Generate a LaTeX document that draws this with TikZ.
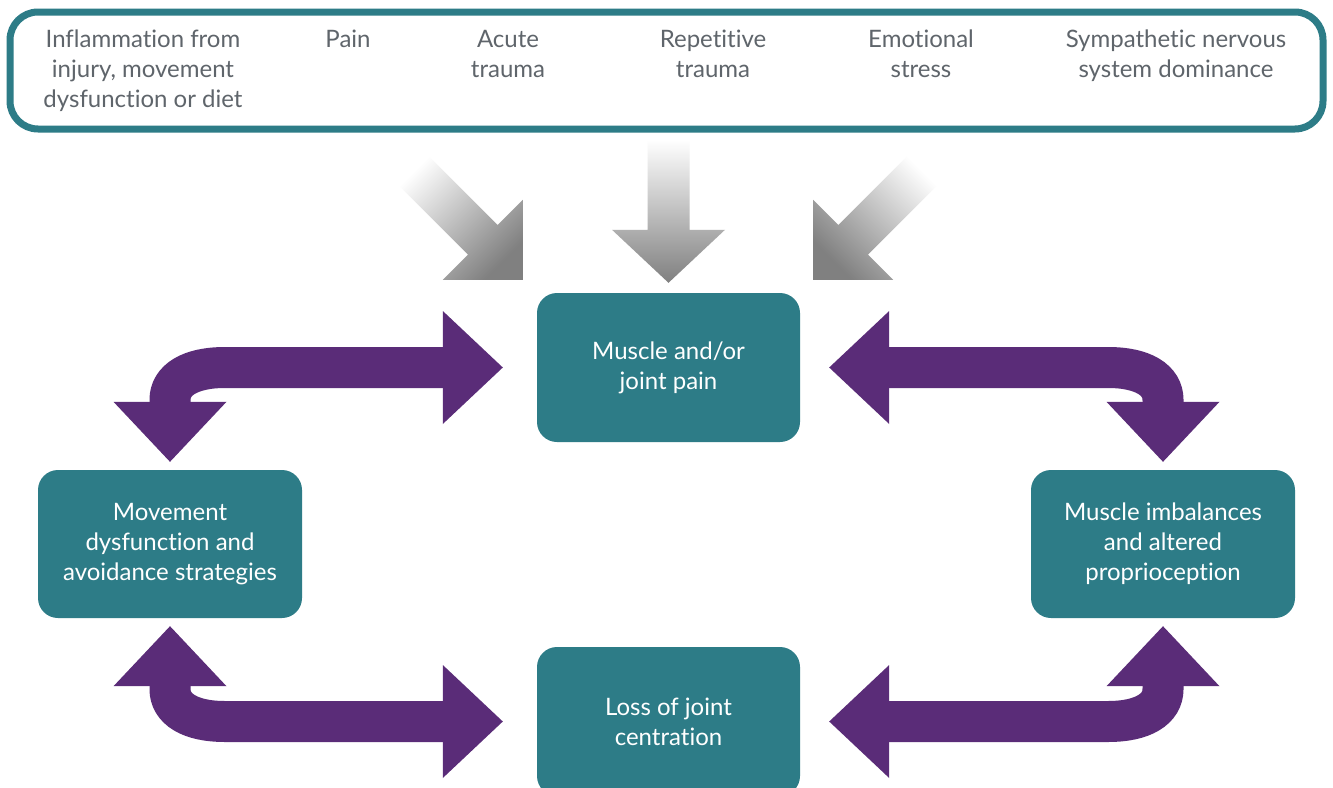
\documentclass[tikz,border=0pt]{standalone}
\usepackage{fontspec}
\setmainfont{Lato}[Ligatures=NoCommon]
\usetikzlibrary{arrows.meta,calc}

\definecolor{boxteal}{HTML}{2D7C87}
\definecolor{loopviolet}{HTML}{5A2C78}
\definecolor{factorgray}{HTML}{5F656B}

\tikzset{
  causebox/.style={rectangle, rounded corners=20pt, fill=boxteal, text=white, minimum width=263pt, minimum height=149pt, align=center, font=\fontsize{24}{30}\selectfont},
  factor/.style={anchor=north, inner sep=0pt, align=center, text=factorgray, font=\fontsize{24}{30}\selectfont},
  cyclearrow/.style={draw=loopviolet, line width=41pt, {Triangle[length=60pt,width=113pt,line width=0pt]}-{Triangle[length=60pt,width=113pt,line width=0pt]}},
  grayarrow/.style={top color=white, middle color=black!38, bottom color=black!50},
}

\begin{document}
\begin{tikzpicture}[x=1pt, y=-1pt]
        \fill[white] (0,0) rectangle (1333,787);
        \useasboundingbox (0,0) rectangle (1333,787);

        % Contributing factors
        \node[draw=boxteal, line width=7pt, rounded corners=28pt, fill=white, minimum width=1313pt, minimum height=117pt] (factors) at (666.5,70.5) {};
        \node[factor] (inflam) at (143,26) {\strut Inflammation from\\injury, movement\\dysfunction or diet};
        \node[factor] (painf) at (348,26) {\strut Pain};
        \node[factor] (acute) at (508,26) {\strut Acute\\trauma};
        \node[factor] (repet) at (713,26) {\strut Repetitive\\trauma};
        \node[factor] (emot) at (921,26) {\strut Emotional\\stress};
        \node[factor] (symp) at (1176,26) {\strut Sympathetic nervous\\system dominance};

        % Cycle boxes
        \node[causebox] (pain) at (668.5,367.5) {Muscle and/or\\joint pain};
        \node[causebox, minimum width=264pt, minimum height=148pt] (movdys) at (170,544) {Movement\\dysfunction and\\avoidance strategies};
        \node[causebox, minimum width=264pt, minimum height=148pt] (imbal) at (1163,544) {Muscle imbalances\\and altered\\proprioception};
        \node[causebox] (centr) at (668.5,721.5) {Loss of joint\\centration};

        % Grey arrows into the pain box
        \coordinate (lt) at ($(pain.north west)+(-14,-13)$);
        \coordinate (mt) at ($(pain.north)+(0,-10)$);
        \coordinate (rt) at ($(pain.north east)+(13,-13)$);
        \begin{scope}[shift={(lt)}]
          \shade[grayarrow, shading angle=45] (0,0) -- (0,-80) -- (-25.15,-54.85) -- (-98.25,-127.95) -- (-127.95,-98.25) -- (-54.85,-25.15) -- (-80,0) -- cycle;
        \end{scope}
        \begin{scope}[shift={(mt)}]
          \shade[grayarrow] (0,0) -- (56.5,-53) -- (21,-53) -- (21,-143) -- (-21,-143) -- (-21,-53) -- (-56.5,-53) -- cycle;
        \end{scope}
        \begin{scope}[shift={(rt)}]
          \shade[grayarrow, shading angle=-45] (0,0) -- (0,-80) -- (25.15,-54.85) -- (98.25,-127.95) -- (127.95,-98.25) -- (54.85,-25.15) -- (80,0) -- cycle;
        \end{scope}

        % Cycle arrows
        \draw[cyclearrow, shorten <=34pt, shorten >=8pt] (pain.west) -- ($(movdys.north |- pain.west)+(55,0)$) .. controls +(-35,0) and +(0,-20) .. ($(movdys.north |- pain.west)+(0,32.5)$) -- (movdys.north);
        \draw[cyclearrow, shorten <=29pt, shorten >=8pt] (pain.east) -- ($(imbal.north |- pain.east)+(-55,0)$) .. controls +(35,0) and +(0,-20) .. ($(imbal.north |- pain.east)+(0,32.5)$) -- (imbal.north);
        \draw[cyclearrow, shorten <=34pt, shorten >=8pt] (centr.west) -- ($(movdys.south |- centr.west)+(55,0)$) .. controls +(-35,0) and +(0,20) .. ($(movdys.south |- centr.west)+(0,-32.5)$) -- (movdys.south);
        \draw[cyclearrow, shorten <=29pt, shorten >=8pt] (centr.east) -- ($(imbal.south |- centr.east)+(-55,0)$) .. controls +(35,0) and +(0,20) .. ($(imbal.south |- centr.east)+(0,-32.5)$) -- (imbal.south);
\end{tikzpicture}
\end{document}
